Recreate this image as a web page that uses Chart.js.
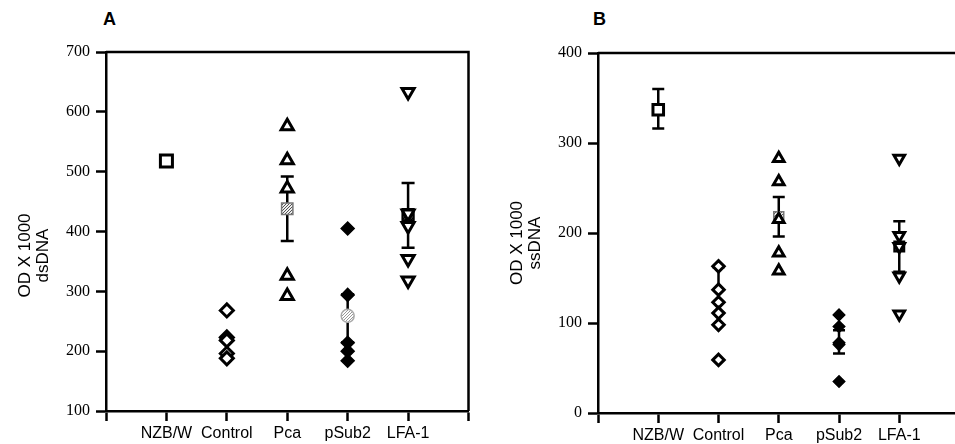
<!DOCTYPE html>
<html>
<head>
<meta charset="utf-8">
<script src="https://cdn.jsdelivr.net/npm/chart.js@4.4.1/dist/chart.umd.min.js"></script>
<style>
  html, body { margin: 0; padding: 0; background: #fff; overflow: hidden; width: 955px; height: 444px; }
  .panel { position: absolute; top: 0; }
  .letter { position: absolute; top: 9px; font: bold 18px "Liberation Sans", Arial, sans-serif; color: #000; }
</style>
</head>
<body>
<div class="letter" style="left:103px">A</div>
<div class="letter" style="left:593px">B</div>
<canvas id="chartA" class="panel" style="left:0" width="480" height="444"></canvas>
<canvas id="chartB" class="panel" style="left:480px" width="490" height="444"></canvas>
<script>
// categorias del eje x (posiciones 1..5)
const categories = ["NZB/W", "Control", "Pca", "pSub2", "LFA-1"];

// Panel A - dsDNA
const dsNzb = [518];
const dsControl = [268, 223, 218, 196, 188];
const dsPca = [576, 519, 472, 326, 292];
const dsPSub2 = [405, 294, 214, 200, 184];
const dsLfa = [633, 430, 409, 354, 318];
const dsMean = [null, null, 438, 259, 428];
const dsLow = [null, null, 384, 215, 373];
const dsHigh = [null, null, 492, 295, 481];
const dsTicks = [100, 200, 300, 400, 500, 600, 700];

// Panel B - ssDNA
const ssNzb = [337];
const ssControl = [163, 137, 123, 111, 98, 59];
const ssPca = [283, 257, 215, 178, 158];
const ssPSub2 = [109, 96, 78, 76, 35];
const ssLfa = [283, 197, 185, 152, 110];
const ssMean = [null, null, 218, null, 185];
const ssLow = [316, 111, 196, 66, 157];
const ssHigh = [360, 162, 240, 92, 213];
const ssTicks = [0, 100, 200, 300, 400];

const xTicks = [0, 1, 2, 3, 4, 5, 6];

// patrones punteados para las medias
function hatch(bg, dot) {
  const c = document.createElement("canvas");
  c.width = 3; c.height = 3;
  const g = c.getContext("2d");
  g.fillStyle = bg; g.fillRect(0, 0, 3, 3);
  g.fillStyle = dot; g.fillRect(0, 0, 1, 1); g.fillRect(1, 2, 1, 1); g.fillRect(2, 1, 1, 1);
  return g.createPattern(c, "repeat");
}

const open = { backgroundColor: "#fff", borderColor: "#000", borderWidth: 3 };
const filled = { backgroundColor: "#000", borderColor: "#000", borderWidth: 1.5 };

function groupStyles(s) {
  return [
    { pointStyle: "rect", radius: 8.5 * s, ...open },
    { pointStyle: "rectRot", radius: 6.5 * s, ...open },
    { pointStyle: "triangle", radius: 7 * s, ...open },
    { pointStyle: "rectRot", radius: 6.5 * s, ...filled },
    { pointStyle: "triangle", rotation: 180, radius: 7 * s, ...open }
  ];
}

const meanStyles = [
  { pointStyle: "rect", radius: 8, backgroundColor: "#fff", borderColor: "#000", borderWidth: 3 },
  { pointStyle: "rect", radius: 8, backgroundColor: "#fff", borderColor: "#000", borderWidth: 3 },
  { pointStyle: "rect", radius: 8, backgroundColor: hatch("#eee", "#555"), borderColor: "#777", borderWidth: 1.5 },
  { pointStyle: "circle", radius: 6.5, backgroundColor: hatch("#fff", "#999"), borderColor: "#aaa", borderWidth: 1.5 },
  { pointStyle: "rect", radius: 8, backgroundColor: hatch("#333", "#000"), borderColor: "#000", borderWidth: 2 }
];

function buildDatasets(groups, means, lows, highs, s, capR) {
  const styles = groupStyles(s);
  const sets = [];
  groups.forEach((vals, i) => {
    const st = styles[i];
    sets.push({
      data: vals.map(v => ({ x: i + 1, y: v })),
      pointStyle: st.pointStyle,
      pointRotation: st.rotation || 0,
      pointRadius: st.radius,
      pointBackgroundColor: st.backgroundColor,
      pointBorderColor: st.borderColor,
      pointBorderWidth: st.borderWidth,
      order: 1
    });
  });
  means.forEach((m, i) => {
    if (m === null) return;
    const st = meanStyles[i];
    sets.push({
      data: [{ x: i + 1, y: m }],
      pointStyle: st.pointStyle,
      pointRadius: st.radius * s,
      pointBackgroundColor: st.backgroundColor,
      pointBorderColor: st.borderColor,
      pointBorderWidth: st.borderWidth,
      order: 2
    });
  });
  lows.forEach((lo, i) => {
    if (lo === null) return;
    sets.push({
      type: "line",
      showLine: true,
      data: [{ x: i + 1, y: lo }, { x: i + 1, y: highs[i] }],
      borderColor: "#000",
      borderWidth: 2.5,
      pointStyle: "line",
      pointRadius: capR,
      pointBorderColor: "#000",
      pointBorderWidth: 2.5,
      order: 3
    });
  });
  return sets;
}

// marco superior y derecho
const frame = {
  id: "frame",
  afterDraw(chart) {
    const { ctx, chartArea: a } = chart;
    ctx.save();
    ctx.strokeStyle = "#000";
    ctx.lineWidth = 2.5;
    ctx.beginPath();
    ctx.moveTo(a.left, a.top);
    ctx.lineTo(a.right, a.top);
    ctx.lineTo(a.right, a.bottom);
    ctx.stroke();
    ctx.restore();
  }
};

// titulo del eje y en dos lineas
const yTitle = {
  id: "yTitle",
  afterDraw(chart, args, opts) {
    const { ctx, chartArea: a } = chart;
    ctx.save();
    ctx.fillStyle = "#000";
    ctx.font = "17px 'Liberation Sans', Arial, sans-serif";
    ctx.textAlign = "center";
    ctx.textBaseline = "middle";
    const cy = (a.top + a.bottom) / 2 + opts.shift;
    opts.lines.forEach((t, k) => {
      ctx.save();
      ctx.translate(a.left - opts.dist[k], cy);
      ctx.rotate(-Math.PI / 2);
      ctx.fillText(t, 0, 0);
      ctx.restore();
    });
    ctx.restore();
  }
};

function makeChart(id, datasets, ticks, cfg) {
  return new Chart(document.getElementById(id), {
    type: "scatter",
    data: { datasets },
    options: {
      responsive: false,
      animation: false,
      layout: { padding: { top: cfg.top, right: cfg.right, left: 0, bottom: 0 } },
      plugins: {
        legend: { display: false },
        tooltip: { enabled: false },
        yTitle: { lines: cfg.title, dist: [81, 63], shift: cfg.shift }
      },
      scales: {
        x: {
          type: "linear",
          min: 0, max: 6,
          afterFit: s => { s.height = cfg.xh; },
          afterBuildTicks: s => { s.ticks = xTicks.map(v => ({ value: v })); },
          border: { display: true, color: "#000", width: 2.5 },
          grid: { drawOnChartArea: false, drawTicks: true, tickLength: 10, tickWidth: 2.5, tickColor: "#000", color: "#000" },
          ticks: {
            padding: 3, color: "#000", maxRotation: 0, autoSkip: false,
            font: { family: "'Liberation Sans', Arial, sans-serif", size: 16 },
            callback: v => categories[v - 1] || ""
          }
        },
        y: {
          type: "linear",
          min: ticks[0], max: ticks[ticks.length - 1],
          afterFit: s => { s.width = cfg.yw; },
          afterBuildTicks: s => { s.ticks = ticks.map(v => ({ value: v })); },
          border: { display: true, color: "#000", width: 2.5 },
          grid: { drawOnChartArea: false, drawTicks: true, tickLength: 10, tickWidth: 2.5, tickColor: "#000", color: "#000" },
          ticks: {
            padding: 6, color: "#000",
            font: { family: "'Liberation Serif', 'Times New Roman', serif", size: 16 }
          }
        }
      }
    },
    plugins: [frame, yTitle]
  });
}

makeChart("chartA",
  buildDatasets([dsNzb, dsControl, dsPca, dsPSub2, dsLfa], dsMean, dsLow, dsHigh, 1, 6.5),
  dsTicks,
  { top: 52, right: 10, xh: 33, yw: 106, title: ["OD X 1000", "dsDNA"], shift: 24 });

makeChart("chartB",
  buildDatasets([ssNzb, ssControl, ssPca, ssPSub2, ssLfa], ssMean, ssLow, ssHigh, 0.88, 6),
  ssTicks,
  { top: 53, right: 5, xh: 31, yw: 118, title: ["OD X 1000", "ssDNA"], shift: 10 });
</script>
</body>
</html>
